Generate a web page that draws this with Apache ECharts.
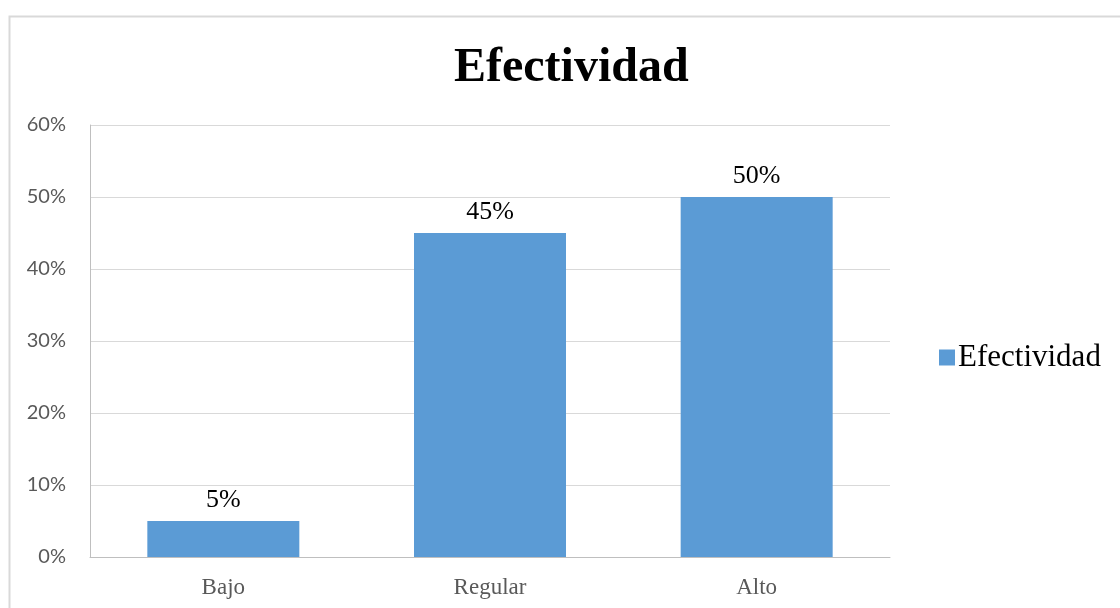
<!DOCTYPE html>
<html>
<head>
<meta charset="utf-8">
<script src="https://cdn.jsdelivr.net/npm/echarts@6/dist/echarts.min.js"></script>
<style>
  html, body { margin: 0; padding: 0; background: #fff; }
  #chart { width: 1120px; height: 608px; }
</style>
</head>
<body>
<div id="chart"></div>
<script>
// Effectiveness levels and their share of responses
const categories = ['Bajo', 'Regular', 'Alto'];
const seriesName = 'Efectividad';
const values = [5, 45, 50];
const yTicks = [0, 10, 20, 30, 40, 50, 60];

const serif = '"Liberation Serif", "Times New Roman", serif';
const sans = 'Lato, "Open Sans", sans-serif';

const chart = echarts.init(document.getElementById('chart'));
chart.setOption({
  animation: false,
  backgroundColor: '#ffffff',
  graphic: [{
    type: 'rect',
    shape: { x: 9.5, y: 16.5, width: 1130, height: 620 },
    style: { fill: 'none', stroke: '#d9d9d9', lineWidth: 2 },
    silent: true
  }],
  title: {
    text: seriesName,
    left: 454,
    top: 45,
    padding: 0,
    textStyle: { fontFamily: serif, fontWeight: 'bold', fontSize: 48, color: '#000' }
  },
  legend: {
    data: [seriesName],
    left: 934,
    top: 337,
    icon: 'rect',
    itemWidth: 16,
    itemHeight: 16,
    itemGap: 4,
    textStyle: { fontFamily: serif, fontSize: 31, color: '#000', padding: [0, 0, 0, -2] }
  },
  grid: { left: 90, right: 230, top: 125, bottom: 51 },
  xAxis: {
    type: 'category',
    data: categories,
    axisLine: { lineStyle: { color: '#bfbfbf', width: 1 } },
    axisTick: { show: false },
    axisLabel: { fontFamily: serif, fontSize: 23, color: '#595959', margin: 19 }
  },
  yAxis: {
    type: 'value',
    min: yTicks[0],
    max: yTicks[yTicks.length - 1],
    interval: 10,
    axisLine: { show: true, lineStyle: { color: '#bfbfbf', width: 1 } },
    axisTick: { show: false },
    axisLabel: {
      fontFamily: sans, fontSize: 20, color: '#595959', margin: 24,
      formatter: v => v + '%'
    },
    splitLine: { lineStyle: { color: '#d9d9d9', width: 1 } }
  },
  series: [{
    name: seriesName,
    type: 'bar',
    data: values,
    barWidth: '57%',
    itemStyle: { color: '#5b9bd5' },
    label: {
      show: true,
      position: 'top',
      distance: 8,
      fontFamily: serif,
      fontSize: 26,
      color: '#000',
      formatter: p => p.value + '%'
    }
  }]
});
</script>
</body>
</html>
